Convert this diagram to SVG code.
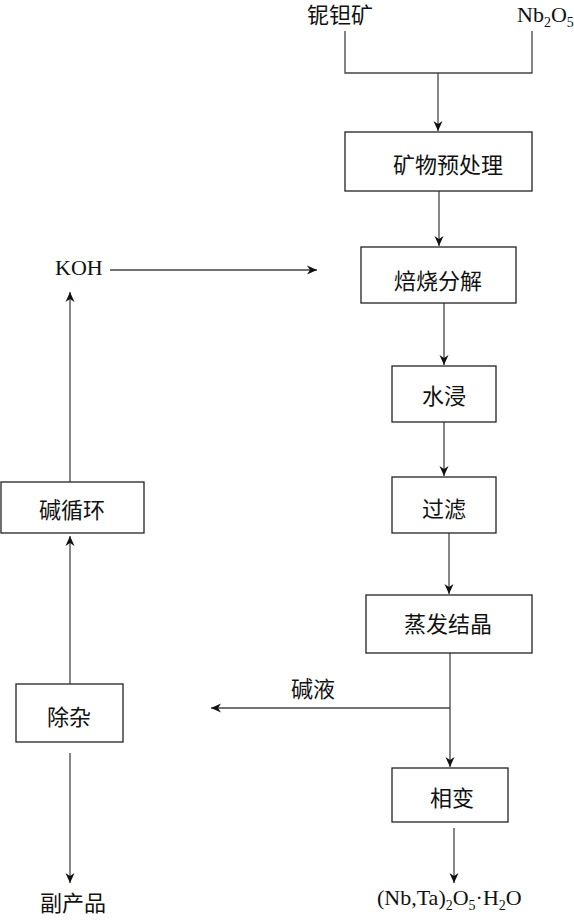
<svg xmlns="http://www.w3.org/2000/svg" width="574" height="922" viewBox="0 0 574 922">
<style>
.box{fill:#fff;stroke:#222;stroke-width:1.3}
.ln{fill:none;stroke:#444;stroke-width:1.3}
.cj{font-family:"Noto Sans CJK SC","Noto Sans CJK JP",sans-serif;font-size:22px;fill:#111;text-anchor:middle}
.lt{font-family:"Liberation Serif","Times New Roman",serif;font-size:22px;fill:#111}
.sub{font-size:14px}
</style>
<defs>
<marker id="ah" markerUnits="userSpaceOnUse" markerWidth="12" markerHeight="10" refX="10" refY="5" orient="auto" viewBox="0 0 12 10">
<path d="M0,0.5 L10,5 L0,9.5 L3,5 z" fill="#111"/>
</marker>
</defs>
<rect width="574" height="922" fill="#fff"/>
<g id="connectors">
<polyline class="ln" points="345,31 345,73 532,73 532,31"/>
<line class="ln" x1="438" y1="73" x2="438" y2="131" marker-end="url(#ah)"/>
<line class="ln" x1="439" y1="191" x2="439" y2="246" marker-end="url(#ah)"/>
<line class="ln" x1="444" y1="303" x2="444" y2="365" marker-end="url(#ah)"/>
<line class="ln" x1="444" y1="422" x2="444" y2="476" marker-end="url(#ah)"/>
<line class="ln" x1="449" y1="533" x2="449" y2="594" marker-end="url(#ah)"/>
<line class="ln" x1="450" y1="653" x2="450" y2="767" marker-end="url(#ah)"/>
<line class="ln" x1="450" y1="708" x2="211" y2="708" marker-end="url(#ah)"/>
<line class="ln" x1="454" y1="828" x2="454" y2="883" marker-end="url(#ah)"/>
<line class="ln" x1="110" y1="270" x2="317" y2="270" marker-end="url(#ah)"/>
<line class="ln" x1="70" y1="482" x2="70" y2="292" marker-end="url(#ah)"/>
<line class="ln" x1="70" y1="684" x2="70" y2="536" marker-end="url(#ah)"/>
<line class="ln" x1="70" y1="753" x2="70" y2="883" marker-end="url(#ah)"/>
</g>
<g id="n-ore"><text class="cj" x="340" y="23">铌钽矿</text></g>
<g id="n-nb2o5"><text class="lt" x="517" y="22">Nb<tspan class="sub" dy="5">2</tspan><tspan dy="-5">O</tspan><tspan class="sub" dy="5">5</tspan></text></g>
<g id="n-pre"><rect class="box" x="345" y="132" width="187" height="59"/><text class="cj" x="448" y="173">矿物预处理</text></g>
<g id="n-roast"><rect class="box" x="361" y="247" width="155" height="56"/><text class="cj" x="438" y="289">焙烧分解</text></g>
<g id="n-koh"><text class="lt" x="55" y="275">KOH</text></g>
<g id="n-leach"><rect class="box" x="392" y="366" width="104" height="56"/><text class="cj" x="444" y="404">水浸</text></g>
<g id="n-filter"><rect class="box" x="392" y="477" width="104" height="56"/><text class="cj" x="444" y="517">过滤</text></g>
<g id="n-evap"><rect class="box" x="366" y="595" width="166" height="58"/><text class="cj" x="448" y="632">蒸发结晶</text></g>
<g id="n-lye"><text class="cj" x="313" y="697">碱液</text></g>
<g id="n-phase"><rect class="box" x="392" y="768" width="116" height="54"/><text class="cj" x="452" y="806">相变</text></g>
<g id="n-product"><text class="lt" x="377" y="905">(Nb,Ta)<tspan class="sub" dy="5">2</tspan><tspan dy="-5">O</tspan><tspan class="sub" dy="5">5</tspan><tspan dy="-5">·H</tspan><tspan class="sub" dy="5">2</tspan><tspan dy="-5">O</tspan></text></g>
<g id="n-recycle"><rect class="box" x="1" y="482" width="143" height="51"/><text class="cj" x="72" y="518">碱循环</text></g>
<g id="n-purify"><rect class="box" x="16" y="684" width="107" height="58"/><text class="cj" x="69" y="725">除杂</text></g>
<g id="n-byproduct"><text class="cj" x="73" y="911">副产品</text></g>
</svg>
